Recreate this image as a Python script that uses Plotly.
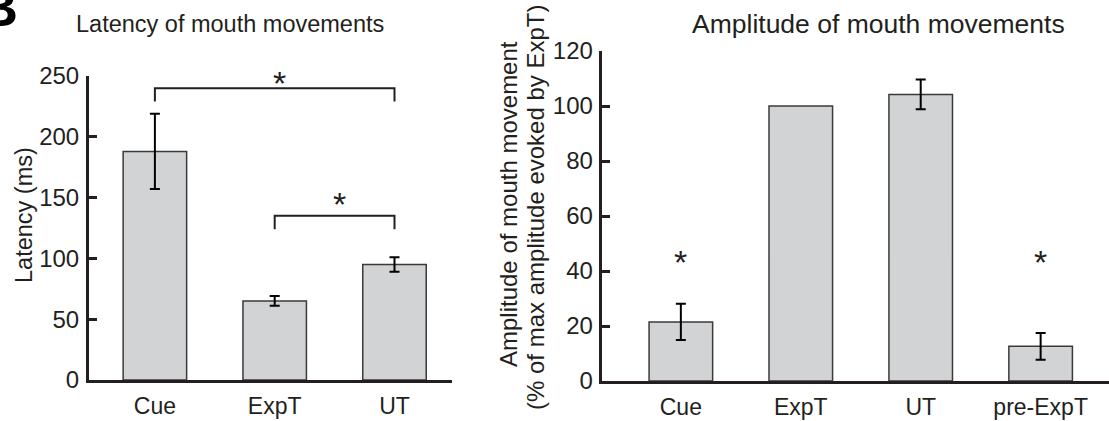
import plotly.graph_objects as go

# ---------------- data ----------------
lat_categories = ["Cue", "ExpT", "UT"]
lat_values = [188, 65, 95]
lat_errors = [31, 4, 6]
lat_ticks = [0, 50, 100, 150, 200, 250]
# significance brackets: (from index, to index, leg bottom, bracket top, star height)
lat_brackets = [(0, 2, 229, 240, 247), (1, 2, 124, 135, 148)]

amp_categories = ["Cue", "ExpT", "UT", "pre-ExpT"]
amp_values = [21.5, 100, 104.2, 12.6]
amp_errors = [6.6, None, 5.4, 4.9]
amp_ticks = [0, 20, 40, 60, 80, 100, 120]
amp_star_idx = [0, 3]
amp_star_height = 44.6

W, H = 1109, 421
FONT = "Liberation Sans, Arial, Helvetica, sans-serif"
INK = "#231f20"
FILL = "#d1d3d4"
EDGE = "#3a3a3a"


def fx(p):
    return p / W


def fy(p):
    return 1 - p / H


def bars(cats, vals, errs, xa, ya):
    idx = list(range(len(cats)))
    out = [go.Bar(
        x=idx, y=vals, width=0.53,
        marker=dict(color=FILL, line=dict(color=EDGE, width=1.5)),
        xaxis=xa, yaxis=ya, showlegend=False, hoverinfo="skip",
    )]
    keep = [i for i in idx if errs[i] is not None]
    out.append(go.Scatter(
        x=keep, y=[vals[i] for i in keep], mode="markers",
        marker=dict(size=1, opacity=0),
        error_y=dict(type="data", array=[errs[i] for i in keep], color="black",
                     thickness=2, width=5),
        xaxis=xa, yaxis=ya, showlegend=False, hoverinfo="skip",
    ))
    return out


fig = go.Figure()
for t in bars(lat_categories, lat_values, lat_errors, "x", "y"):
    fig.add_trace(t)
for t in bars(amp_categories, amp_values, amp_errors, "x2", "y2"):
    fig.add_trace(t)

axis_common = dict(showgrid=False, zeroline=False, showline=True, linecolor=INK,
                   linewidth=3, automargin=False)

fig.update_layout(
    template="none",
    width=W, height=H,
    margin=dict(l=0, r=0, t=0, b=0, pad=0),
    paper_bgcolor="white", plot_bgcolor="white",
    font=dict(family=FONT, color=INK),
    xaxis=dict(domain=[fx(89), fx(452)], range=[-0.55, 2.48], anchor="y",
               tickvals=list(range(len(lat_categories))), ticktext=lat_categories,
               ticks="", tickfont=dict(size=23), ticklabelstandoff=3, **axis_common),
    yaxis=dict(domain=[fy(380), fy(76)], range=[0, 250], anchor="x",
               tickvals=lat_ticks, ticks="inside", ticklen=8, tickwidth=2.5, tickcolor=INK,
               tickfont=dict(size=24), ticklabelstandoff=2, **axis_common),
    xaxis2=dict(domain=[fx(601.7), 1.0], range=[-0.66, 3.57], anchor="y2",
                tickvals=list(range(len(amp_categories))), ticktext=amp_categories,
                ticks="", tickfont=dict(size=23), ticklabelstandoff=3, **axis_common),
    yaxis2=dict(domain=[fy(381), fy(51)], range=[0, 120], anchor="x2",
                tickvals=amp_ticks, ticks="inside", ticklen=8, tickwidth=2.5, tickcolor=INK,
                tickfont=dict(size=24), ticklabelstandoff=1, **axis_common),
)

shapes = []
annotations = []
for i0, i1, ylo, yhi, ystar in lat_brackets:
    shapes.append(dict(type="path", xref="x", yref="y",
                       path=f"M {i0},{ylo} L {i0},{yhi} L {i1},{yhi} L {i1},{ylo}",
                       line=dict(color=INK, width=2)))
    annotations.append(dict(xref="x", yref="y", x=(i0 + i1) / 2, y=ystar, text="*",
                            showarrow=False, font=dict(size=34, color=INK),
                            xanchor="center", yanchor="middle", xshift=5, yshift=-3.5))
for i in amp_star_idx:
    annotations.append(dict(xref="x2", yref="y2", x=i, y=amp_star_height, text="*",
                            showarrow=False, font=dict(size=34, color=INK),
                            xanchor="center", yanchor="middle", yshift=-3.5))

# titles and axis titles
annotations += [
    dict(xref="paper", yref="paper", x=fx(230), y=fy(24.5), text="Latency of mouth movements",
         showarrow=False, font=dict(size=23.5, color=INK), xanchor="center", yanchor="middle"),
    dict(xref="paper", yref="paper", x=fx(878), y=fy(24.5), text="Amplitude of mouth movements",
         showarrow=False, font=dict(size=26.5, color=INK), xanchor="center", yanchor="middle"),
    dict(xref="paper", yref="paper", x=fx(24), y=fy(215), text="Latency (ms)", textangle=-90,
         showarrow=False, font=dict(size=23.5, color=INK), xanchor="center", yanchor="middle"),
    dict(xref="paper", yref="paper", x=fx(508), y=fy(204), text="Amplitude of mouth movement",
         textangle=-90, showarrow=False, font=dict(size=24, color=INK),
         xanchor="center", yanchor="middle"),
    dict(xref="paper", yref="paper", x=fx(535), y=fy(207),
         text="(% of max amplitude evoked by ExpT)", textangle=-90,
         showarrow=False, font=dict(size=24, color=INK), xanchor="center", yanchor="middle"),
    dict(xref="paper", yref="paper", x=fx(20), y=fy(39), text="<b>B</b>",
         showarrow=False, font=dict(size=54, color="black"), xanchor="right", yanchor="bottom"),
]

fig.update_layout(shapes=shapes, annotations=annotations)
fig.write_html("out.html")
